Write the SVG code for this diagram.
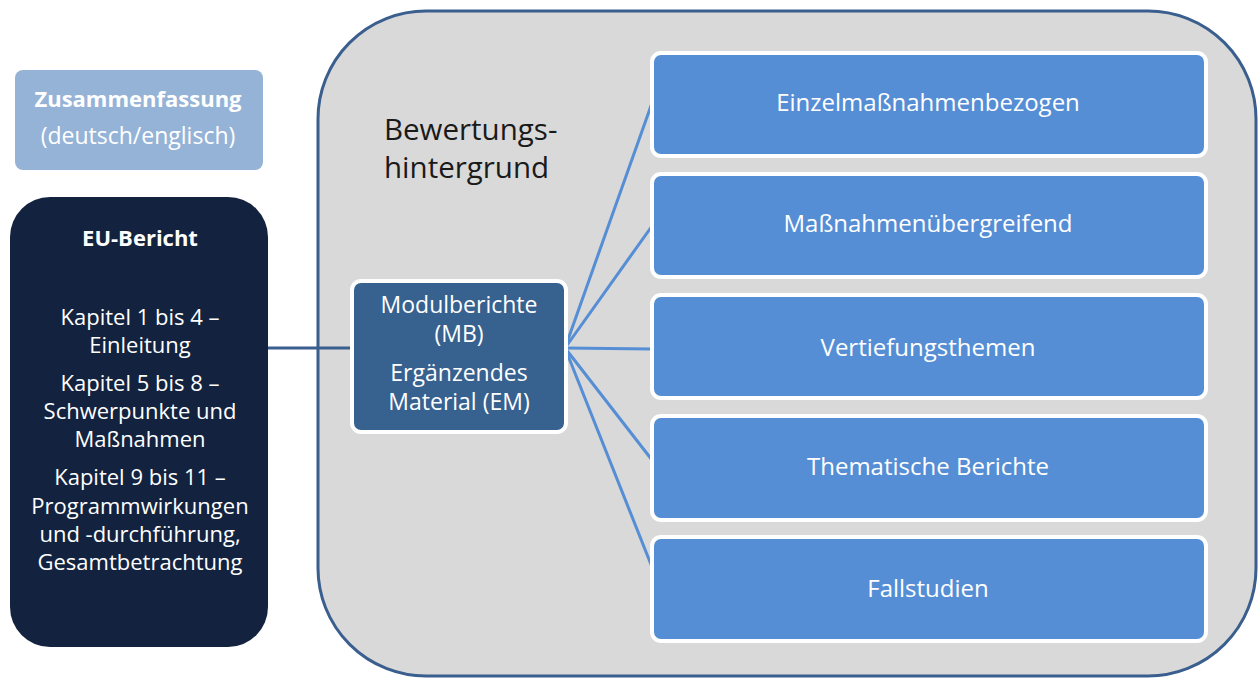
<svg xmlns="http://www.w3.org/2000/svg" width="1260" height="681" viewBox="0 0 1260 681">
<style>
  .t { font-family: "Open Sans", Lato, "Liberation Sans", sans-serif; text-anchor: middle; fill: #ffffff; font-size: 23px; }
  .e { font-size: 22px; }
  .b { font-weight: bold; font-size: 22px; }
  .l { font-size: 24px; }
  .leaf { fill: #558ED5; stroke: #ffffff; stroke-width: 4; }
  .fan { stroke: #558ED5; stroke-width: 3; fill: none; }
  .h { font-family: "Open Sans", Lato, "Liberation Sans", sans-serif; font-size: 29.5px; fill: #1a1a1a; }
</style>
<rect width="1260" height="681" fill="#ffffff"/>
<g id="container">
  <rect x="318" y="11" width="938" height="665" rx="108" ry="108" fill="#D9D9D9" stroke="#3A5F8F" stroke-width="3"/>
  <text class="h" x="384" y="140">Bewertungs-</text>
  <text class="h" x="384" y="178">hintergrund</text>
</g>
<g id="connectors">
  <line x1="268" y1="348" x2="352" y2="348" stroke="#3A5F8F" stroke-width="3"/>
  <line class="fan" x1="565" y1="348" x2="652" y2="103"/>
  <line class="fan" x1="565" y1="348" x2="652" y2="226"/>
  <line class="fan" x1="565" y1="348" x2="652" y2="349"/>
  <line class="fan" x1="565" y1="348" x2="652" y2="460"/>
  <line class="fan" x1="565" y1="348" x2="652" y2="567"/>
</g>
<g id="zusammenfassung">
  <rect x="15" y="70" width="248" height="100" rx="8" fill="#95B3D7"/>
  <text class="t b" x="138" y="107">Zusammenfassung</text>
  <text class="t" x="138" y="144">(deutsch/englisch)</text>
</g>
<g id="eu-bericht">
  <rect x="10" y="197" width="258" height="450" rx="40" fill="#13233F"/>
  <text class="t b" x="140" y="246">EU-Bericht</text>
  <text class="t e" x="140" y="325">Kapitel 1 bis 4 –</text>
  <text class="t e" x="140" y="353">Einleitung</text>
  <text class="t e" x="140" y="391">Kapitel 5 bis 8 –</text>
  <text class="t e" x="140" y="419">Schwerpunkte und</text>
  <text class="t e" x="140" y="447">Maßnahmen</text>
  <text class="t e" x="140" y="485">Kapitel 9 bis 11 –</text>
  <text class="t e" x="140" y="514">Programmwirkungen</text>
  <text class="t e" x="140" y="542">und -durchführung,</text>
  <text class="t e" x="140" y="570">Gesamtbetrachtung</text>
</g>
<g id="modulberichte">
  <rect x="352" y="281" width="214" height="151" rx="9" fill="#37618F" stroke="#ffffff" stroke-width="4"/>
  <text class="t" x="459" y="313">Modulberichte</text>
  <text class="t" x="459" y="342">(MB)</text>
  <text class="t" x="459" y="381">Ergänzendes</text>
  <text class="t" x="459" y="410">Material (EM)</text>
</g>
<g id="einzel">
  <rect class="leaf" x="652" y="53" width="554" height="103" rx="9"/>
  <text class="t l" x="928" y="111">Einzelmaßnahmenbezogen</text>
</g>
<g id="uebergreifend">
  <rect class="leaf" x="652" y="174" width="554" height="103" rx="9"/>
  <text class="t l" x="928" y="232">Maßnahmenübergreifend</text>
</g>
<g id="vertiefung">
  <rect class="leaf" x="652" y="295" width="554" height="103" rx="9"/>
  <text class="t l" x="928" y="356">Vertiefungsthemen</text>
</g>
<g id="thematisch">
  <rect class="leaf" x="652" y="416" width="554" height="104" rx="9"/>
  <text class="t l" x="928" y="475">Thematische Berichte</text>
</g>
<g id="fallstudien">
  <rect class="leaf" x="652" y="537" width="554" height="104" rx="9"/>
  <text class="t l" x="928" y="597">Fallstudien</text>
</g>
</svg>
